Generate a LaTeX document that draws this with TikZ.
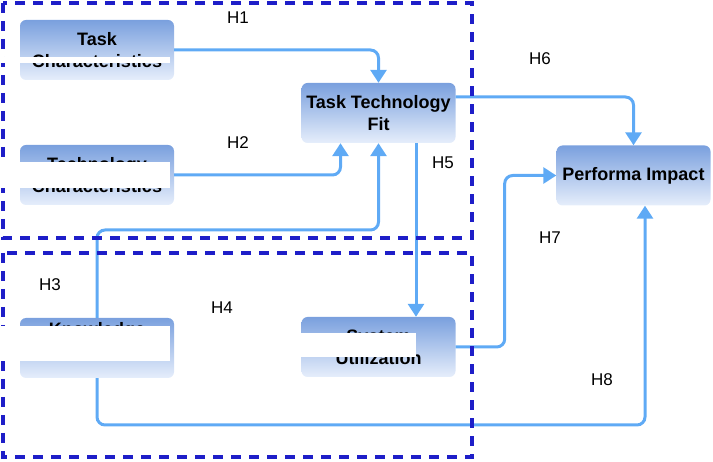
\documentclass[tikz,border=0pt]{standalone}
\usepackage{fontspec}
\setmainfont{Liberation Sans}
\usetikzlibrary{arrows.meta}

\definecolor{linkblue}{RGB}{95,170,245}
\definecolor{zoneblue}{RGB}{30,30,200}
\definecolor{boxtop}{RGB}{122,160,222}
\definecolor{boxbottom}{RGB}{230,238,251}

\begin{document}
\begin{tikzpicture}[x=1pt,y=-1pt,
	box/.style = {rounded corners=6pt, top color=boxtop, bottom color=boxbottom,
		minimum width=154pt, minimum height=60pt, inner sep=0pt, align=center,
		font=\fontsize{18}{22}\selectfont\bfseries},
	hyp/.style = {font=\fontsize{17}{20}\selectfont},
	link/.style = {draw=linkblue, line width=3pt, rounded corners=8pt,
		-{Triangle[width=16pt,length=13pt]}},
	zone/.style = {draw=zoneblue, line width=3.5pt, dash pattern=on 10pt off 8pt},
	cover/.style = {fill=white}]
	\useasboundingbox (0,0) rectangle (713,462);

	% constructs
	\node[box] (task) at (97,50) {Task\\Characteristics};
	\node[box] (tech) at (97,175) {Technology\\Characteristics};
	\node[box] (ttf) at (378.5,113) {Task Technology\\Fit};
	\node[box] (perf) at (633.5,175.5) {Performa Impact};
	\node[box, label={[anchor=north, yshift=-1pt, font=\fontsize{18}{22}\selectfont\bfseries]north:Knowledge}] (know) at (97,348) {};
	\node[box] (sys) at (378.5,347) {System\\Utilization};

	% bends
	\coordinate (kbend) at (378.5,230);
	\coordinate (hbend) at (645,425);

	% hypotheses
	\draw[link] (task.east) -| (ttf.north);
	\draw[link] (tech.east) -| ([xshift=-38pt]ttf.south);
	\draw[link] (know.north) |- (kbend) -- (ttf.south);
	\draw[link] ([xshift=37.5pt]ttf.south) -- ([xshift=37.5pt]sys.north);
	\draw[link] ([yshift=16pt]ttf.east) -| (perf.north);
	\draw[link] (sys.east) -- ++(49,0) |- (perf.west);
	\draw[link] (know.south) |- (hbend) -- ([xshift=11.5pt]perf.south);

	\node[hyp] (h1) at (238,18) {H1};
	\node[hyp] (h2) at (238,143) {H2};
	\node[hyp] (h3) at (50,285) {H3};
	\node[hyp] (h4) at (222,308) {H4};
	\node[hyp] (h5) at (443,163) {H5};
	\node[hyp] (h6) at (540,59) {H6};
	\node[hyp] (h7) at (550,238) {H7};
	\node[hyp] (h8) at (602,380) {H8};

	% groups
	\draw[zone] (3,3) rectangle (472,238);
	\draw[zone] (3,253) rectangle (472,457);

	% white bars over the labels
	\fill[cover] (0,57) rectangle (170,63);
	\fill[cover] (0,162) rectangle (170,188);
	\fill[cover] (0,326) rectangle (170,361);
	\fill[cover] (301,333) rectangle (416,357);
\end{tikzpicture}
\end{document}
